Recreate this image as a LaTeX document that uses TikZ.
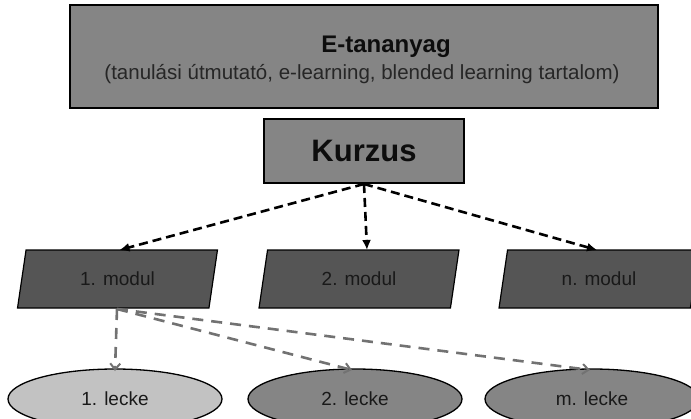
\documentclass[tikz,border=0pt]{standalone}
\usepackage{fontspec}
\setmainfont{Liberation Sans}
\usetikzlibrary{shapes.geometric,arrows.meta}

\definecolor{boxgray}{HTML}{858585}
\definecolor{modgray}{HTML}{555555}
\definecolor{lightgray}{HTML}{C2C2C2}
\definecolor{midgray}{HTML}{858585}
\definecolor{linkgray}{HTML}{727272}

\tikzset{
  box/.style={draw=black, line width=1.6pt, fill=boxgray, inner sep=0pt, outer sep=0pt},
  modulbox/.style={trapezium, trapezium left angle=76, trapezium right angle=104,
    trapezium stretches=true, draw=black, line width=1.2pt, fill=modgray,
    minimum width=201pt, minimum height=58pt, inner sep=0pt, outer sep=0pt,
    font=\fontsize{19}{22}\selectfont, text=black!90},
  leckebox/.style={ellipse, draw=black, line width=1.3pt, minimum width=214pt,
    minimum height=60pt, inner sep=0pt, outer sep=0pt,
    font=\fontsize{19}{22}\selectfont, text=black!90},
  toplink/.style={draw=black, line width=2.6pt, dash pattern=on 9pt off 5pt,
    -{Latex[length=10pt,width=9pt]}},
  sublink/.style={draw=linkgray, line width=2.6pt, dash pattern=on 11pt off 8pt,
    -{Straight Barb[length=6pt,width=10pt,line width=2pt]}}
}

\begin{document}
\begin{tikzpicture}[x=1pt,y=-1pt]
  \useasboundingbox (0,0) rectangle (691,418);

  % course material and course
  \node[box, minimum width=588pt, minimum height=103pt] (etan) at (364,56.5) {};
  \node[font=\fontsize{24}{28}\selectfont\bfseries, text=black!95] (etantitle) at (386,47) {E-tananyag};
  \node[font=\fontsize{20.5}{24}\selectfont, text=black!85] (etansub) at (362,74)
    {(tanulási útmutató, e-learning, blended learning tartalom)};

  \node[box, minimum width=200pt, minimum height=64pt,
        font=\fontsize{31}{36}\selectfont\bfseries, text=black!95] (kurzus) at (364,151) {Kurzus};

  % modules
  \node[modulbox] (m1) at (117.5,279) {1. modul};
  \node[modulbox] (m2) at (359,279) {2. modul};
  \node[modulbox] (m3) at (599,279) {n. modul};

  % lessons
  \node[leckebox, fill=lightgray] (l1) at (115,399) {1. lecke};
  \node[leckebox, fill=midgray] (l2) at (355,399) {2. lecke};
  \node[leckebox, fill=midgray] (l3) at (592,399) {m. lecke};

  % course to modules
  \coordinate (kb) at (364,184);
  \draw[toplink] (kb) -- ([xshift=2pt]m1.north);
  \draw[toplink] (kb) -- ([xshift=8pt]m2.north);
  \draw[toplink] (kb) -- ([xshift=-2pt]m3.north);

  % first module to lessons
  \coordinate (mb) at (117,309);
  \draw[sublink] (mb) -- ([yshift=-2pt]l1.north);
  \draw[sublink] (mb) -- ([xshift=-3pt,yshift=-1pt]l2.north);
  \draw[sublink] (mb) -- ([xshift=-2pt,yshift=-1pt]l3.north);
\end{tikzpicture}
\end{document}
